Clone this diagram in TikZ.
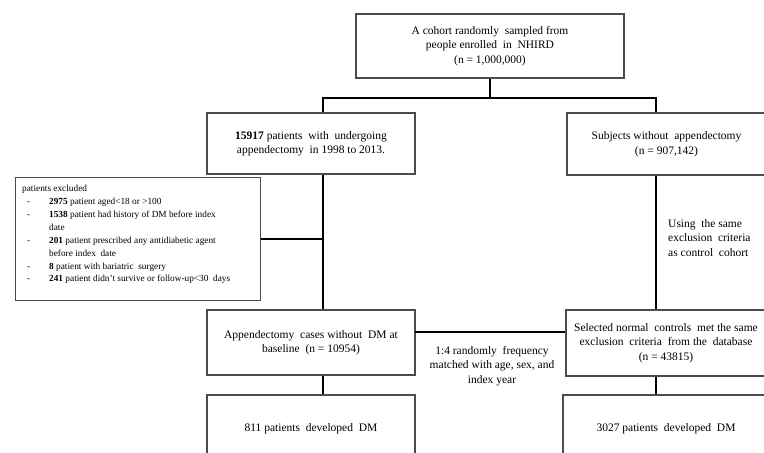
\documentclass[tikz,border=0pt]{standalone}
\usepackage{fontspec}
\setmainfont{Liberation Serif}
\newcommand{\dashitem}{\makebox[27pt][l]{\hspace{5pt}-}}
\newcommand{\contitem}{\hspace*{27pt}}
\tikzset{
  box/.style={draw=black!70, line width=1.1pt, align=center, inner sep=2pt,
    font=\fontsize{11.5}{14.5}\selectfont},
  conn/.style={draw=black, line width=1.5pt},
  lbl/.style={inner sep=0pt, font=\fontsize{11.5}{14.5}\selectfont}
}
\begin{document}
\begin{tikzpicture}[x=1pt,y=-1pt]
\useasboundingbox (0,0) rectangle (764,453);
\clip (0,0) rectangle (764,453);
\fill[white] (0,0) rectangle (764,453);
% boxes
\node[box, minimum width=268, minimum height=64] (top) at (490,46)
  {A cohort randomly\ \ sampled from\\people enrolled\ \ in\ \ NHIRD\\(n = 1,000,000)};
\node[box, minimum width=208, minimum height=61] (pat) at (311,143.5)
  {\textbf{15917} patients\ \ with\ \ undergoing\\appendectomy\ \ in 1998 to 2013.};
\node[box, minimum width=199, minimum height=62] (subj) at (666.5,144)
  {Subjects without\ \ appendectomy\\(n = 907,142)};
\node[draw=black!70, line width=1.1pt, minimum width=245, minimum height=123, anchor=north west, inner sep=0pt] (exc) at (15,177) {};
\node[anchor=north west, inner sep=0pt, align=left, font=\fontsize{9.3}{12.9}\selectfont] (exctext) at (22,185)
  {patients excluded\\
  \dashitem\textbf{2975} patient aged<18 or >100\\
  \dashitem\textbf{1538} patient had history of DM before index\\
  \contitem date\\
  \dashitem\textbf{201} patient prescribed any antidiabetic agent\\
  \contitem before index\ \ date\\
  \dashitem\textbf{8} patient with bariatric\ \ surgery\\
  \dashitem\textbf{241} patient didn't survive or follow-up<30\ \ days};
\node[box, minimum width=208, minimum height=65] (app) at (311,342.5)
  {Appendectomy\ \ cases without\ \ DM at\\baseline\ \ (n = 10954)};
\node[box, minimum width=200, minimum height=66] (sel) at (666,343)
  {Selected normal\ \ controls\ \ met the same\\exclusion\ \ criteria\ \ from the\ \ database\\(n = 43815)};
\node[box, minimum width=208, minimum height=68] (dm1) at (311,429)
  {811 patients\ \ developed\ \ DM};
\node[box, minimum width=206, minimum height=68] (dm2) at (666,429)
  {3027 patients\ \ developed\ \ DM};
% labels
\node[lbl, align=center] (match) at (492,366)
  {1:4 randomly\ \ frequency\\matched with age, sex, and\\index year};
\node[lbl, align=left, anchor=west] (same) at (668,238)
  {Using\ \ the same\\exclusion\ \ criteria\\as control\ \ cohort};
% connectors
\coordinate (jl) at (323,98);
\coordinate (jr) at (656,98);
\coordinate (m) at (415,332);
\draw[conn] (top.south) -- (top.south |- jl);
\draw[conn] (pat.north -| jl) -- (jl) -- (jr) -- (subj.north -| jr);
\draw[conn] (pat.south -| jl) -- (app.north -| jl);
\draw[conn] (exc.east) -- (exc.east -| jl);
\draw[conn] (app.south -| jl) -- (dm1.north -| jl);
\draw[conn] (subj.south -| jr) -- (sel.north -| jr);
\draw[conn] (sel.south -| jr) -- (dm2.north -| jr);
\draw[conn] (m) -- (m -| sel.west);
\end{tikzpicture}
\end{document}
